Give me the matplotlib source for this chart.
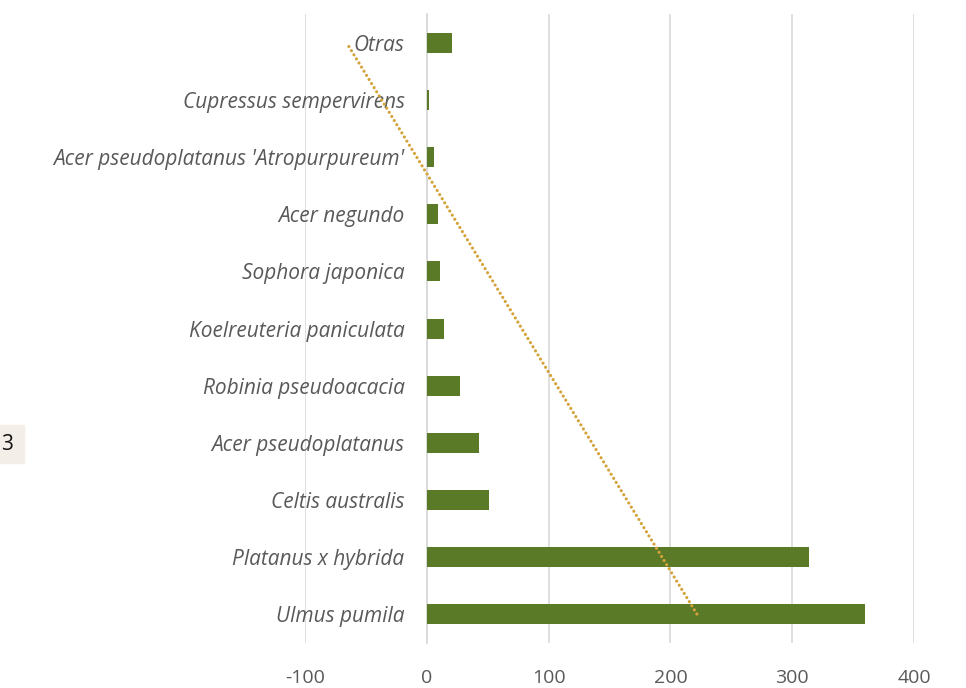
import numpy as np
import matplotlib.pyplot as plt
from matplotlib.patches import Rectangle

# species from bottom to top
species = ["Ulmus pumila", "Platanus x hybrida", "Celtis australis",
           "Acer pseudoplatanus", "Robinia pseudoacacia",
           "Koelreuteria paniculata", "Sophora japonica", "Acer negundo",
           "Acer pseudoplatanus 'Atropurpureum'", "Cupressus sempervirens",
           "Otras"]
counts = [360, 314, 51, 43, 27, 14, 11, 9, 6, 2, 21]
xticks = [-100, 0, 100, 200, 300, 400]

plt.rcParams['font.family'] = ['Open Sans', 'DejaVu Sans']
plt.rcParams['axes.unicode_minus'] = False

fig = plt.figure(figsize=(9.66, 6.88), dpi=100)
ax = fig.add_axes([0.3157, 0.066, 0.6305, 0.913])

# y axis line sits at x = 0 (set first: it resets the ticks)
for s in ['top', 'right', 'bottom']:
    ax.spines[s].set_visible(False)
ax.spines['left'].set_position(('data', 0))
ax.spines['left'].set_color('#D9D9D9')
ax.spines['left'].set_linewidth(1.2)

pos = np.arange(len(species))
ax.barh(pos, counts, height=0.35, color='#5B7A28', zorder=3)

# linear trendline (Excel style)
k, b = np.polyfit(pos, counts, 1)
ax.plot(k * pos[[0, -1]] + b, pos[[0, -1]], color='#D4A33A', lw=2.3,
        linestyle=(0, (0.01, 1.5)), dash_capstyle='round', zorder=4)

ax.set_xlim(-100, 400)
ax.set_ylim(-0.5, len(species) - 0.5)
ax.set_xticks(xticks)
ax.set_yticks(pos)
ax.set_yticklabels(species, style='italic')
ax.grid(axis='x', color='#D9D9D9', lw=1.2, zorder=0)
ax.tick_params(axis='y', length=0, pad=16, labelsize=15, labelcolor='#595959')
ax.tick_params(axis='x', length=0, pad=19, labelsize=14, labelcolor='#595959')

# label box at the left edge
fig.patches.append(Rectangle((0, 1 - 463 / 688), 24 / 966, 38 / 688,
                             transform=fig.transFigure, color='#F3EFE8',
                             zorder=0))
fig.text(1 / 966, 1 - 444 / 688, "3", ha='left', va='center',
         fontsize=15, color='#111111')

fig.savefig('out.png', dpi=100)
